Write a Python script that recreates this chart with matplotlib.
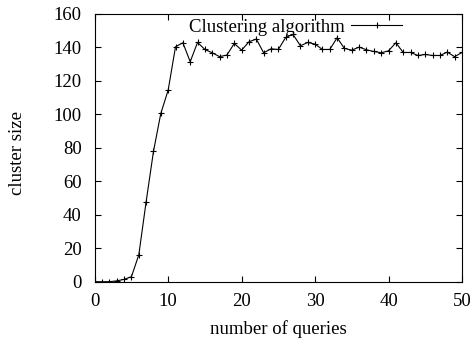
import matplotlib
matplotlib.use("Agg")
import matplotlib.pyplot as plt

# ── data ─────────────────────────────────────────────────────────────────────
queries = list(range(0, 51))
cluster_size = [
    0, 0, 0, 0.5, 1.4, 3, 16, 47.8, 77.9, 100.6,
    114.5, 140.4, 142.8, 131.5, 143, 138.8, 136.8, 134.5, 135.5, 142.4,
    138.4, 143.4, 145, 136.8, 139.2, 138.8, 146, 147.8, 141, 143,
    142, 138.8, 138.8, 145.8, 139.4, 138.4, 140.2, 138.6, 137.6, 136.8,
    138, 142.8, 137, 137, 135.2, 135.8, 135.2, 135.2, 137.2, 134.5,
    137,
]
series_label = 'Clustering algorithm'
x_label = 'number of queries'
y_label = 'cluster size'

plt.rcParams['font.family'] = ['Liberation Serif', 'DejaVu Serif']

fig = plt.figure(figsize=(4.75, 3.43), dpi=100)
ax = fig.add_axes([0.1994, 0.1787, 0.7732, 0.7805])

ax.plot(queries, cluster_size, color='black', linewidth=0.8,
        marker='+', markersize=4, markeredgewidth=0.8, label=series_label)

ax.set_xlim(0, 50)
ax.set_ylim(0, 160)
ax.set_xticks(range(0, 51, 10))
ax.set_yticks(range(0, 161, 20))
ax.tick_params(direction='in', length=4, width=0.8, top=True, right=True,
               labelsize=13.5)
ax.tick_params(axis='x', pad=8)
ax.tick_params(axis='y', pad=9.5)
for spine in ax.spines.values():
    spine.set_linewidth(0.8)

ax.set_xlabel(x_label, fontsize=13.5)
ax.set_ylabel(y_label, fontsize=13.5)
ax.xaxis.set_label_coords(0.5, -0.142)
ax.yaxis.set_label_coords(-0.188, 0.48)

ax.legend(loc='center right', bbox_to_anchor=(0.8367, 0.950),
          markerfirst=False, frameon=False, fontsize=13.5,
          handlelength=2.7, handletextpad=0.38, borderpad=0, borderaxespad=0)

fig.savefig('out.png', dpi=100)
